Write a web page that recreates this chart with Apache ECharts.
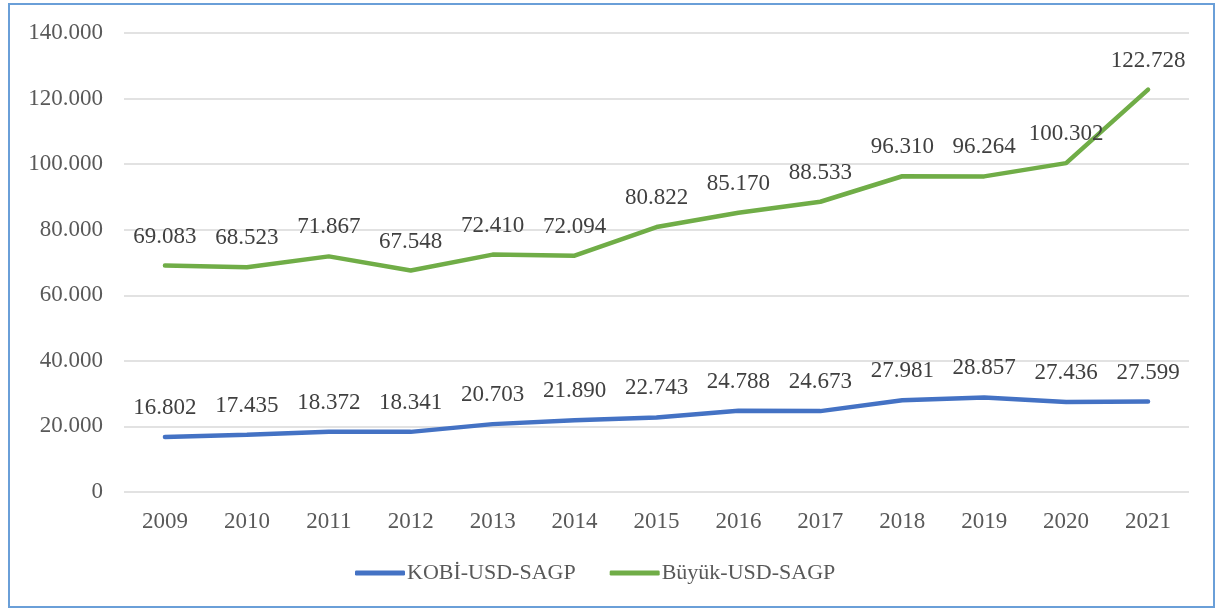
<!DOCTYPE html>
<html>
<head>
<meta charset="utf-8">
<script src="https://cdn.jsdelivr.net/npm/echarts@6/dist/echarts.min.js"></script>
<style>
  html, body { margin: 0; padding: 0; background: #fff; }
  #main { position: absolute; left: 0; top: 0; width: 1219px; height: 610px; }
  #frame { position: absolute; left: 8px; top: 3px; width: 1203px; height: 601px;
           border: 2px solid #6a9fd8; pointer-events: none; }
</style>
</head>
<body>
<div id="main"></div>
<div id="frame"></div>
<script>
var years = ['2009','2010','2011','2012','2013','2014','2015','2016','2017','2018','2019','2020','2021'];
var kobi = [16802,17435,18372,18341,20703,21890,22743,24788,24673,27981,28857,27436,27599];
var buyuk = [69083,68523,71867,67548,72410,72094,80822,85170,88533,96310,96264,100302,122728];

function fmt(v){
  return String(v).replace(/\B(?=(\d{3})+(?!\d))/g, '.');
}

var fontFam = '"Liberation Serif", "Times New Roman", serif';
var myChart = echarts.init(document.getElementById('main'));
var option = {
  animation: false,
  textStyle: { fontFamily: fontFam },
  grid: { left: 124, right: 30, top: 33, bottom: 118, containLabel: false },
  legend: {
    bottom: 21,
    left: 350,
    itemWidth: 50,
    itemHeight: 5,
    itemGap: 34,
    icon: 'roundRect',
    textStyle: { fontFamily: fontFam, fontSize: 22, color: '#595959', padding: [0, 0, 0, -3] },
    data: ['KOBİ-USD-SAGP', 'Büyük-USD-SAGP']
  },
  xAxis: {
    type: 'category',
    data: years,
    boundaryGap: true,
    axisLine: { show: false },
    axisTick: { show: false },
    axisLabel: { fontFamily: fontFam, fontSize: 23, color: '#595959', margin: 18 }
  },
  yAxis: {
    type: 'value',
    min: 0,
    max: 140000,
    interval: 20000,
    axisLine: { show: false },
    axisTick: { show: false },
    splitLine: { lineStyle: { color: '#d9d9d9', width: 1.5 } },
    axisLabel: {
      fontFamily: fontFam, fontSize: 23, color: '#595959', margin: 21,
      formatter: function(v){ return fmt(v); }
    }
  },
  series: [
    {
      name: 'KOBİ-USD-SAGP',
      type: 'line',
      data: kobi,
      symbol: 'circle',
      symbolSize: 1,
      lineStyle: { color: '#4472c4', width: 4.5, cap: 'round' },
      itemStyle: { color: '#4472c4' },
      label: {
        show: true, position: 'top', distance: 17,
        fontFamily: fontFam, fontSize: 23, color: '#404040',
        formatter: function(p){ return fmt(p.value); }
      }
    },
    {
      name: 'Büyük-USD-SAGP',
      type: 'line',
      data: buyuk,
      symbol: 'circle',
      symbolSize: 1,
      lineStyle: { color: '#70ad47', width: 4.5, cap: 'round' },
      itemStyle: { color: '#70ad47' },
      label: {
        show: true, position: 'top', distance: 17,
        fontFamily: fontFam, fontSize: 23, color: '#404040',
        formatter: function(p){ return fmt(p.value); }
      }
    }
  ]
};
myChart.setOption(option);
</script>
</body>
</html>
